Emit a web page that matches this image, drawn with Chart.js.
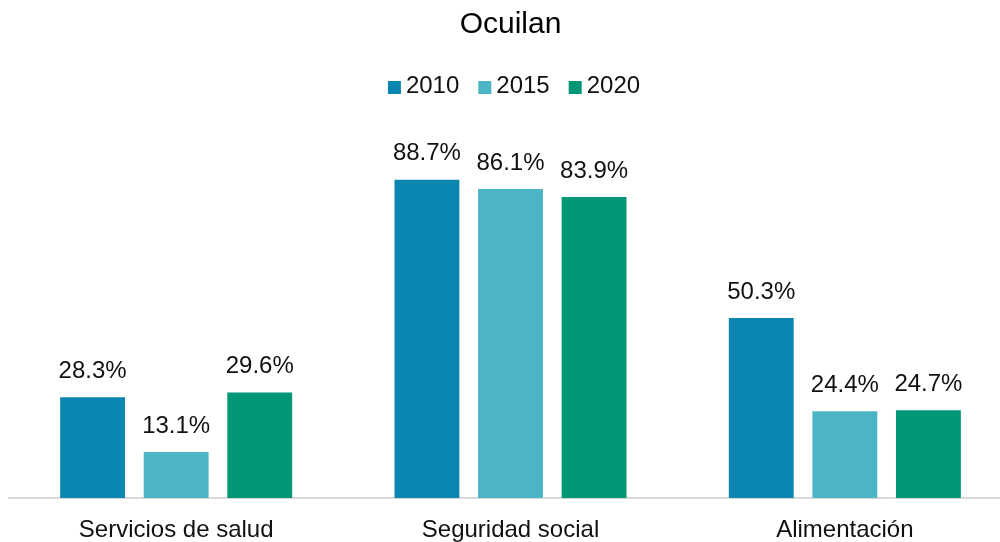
<!DOCTYPE html>
<html>
<head>
<meta charset="utf-8">
<script src="https://cdn.jsdelivr.net/npm/chart.js@4/dist/chart.umd.min.js"></script>
<style>
  html, body { margin: 0; padding: 0; background: #fff; overflow: hidden; }
  #wrap { width: 1022px; height: 563px; position: relative; }
</style>
</head>
<body>
<div id="wrap"><canvas id="pobrezaChart"></canvas></div>
<script>
const categorias = ['Servicios de salud', 'Seguridad social', 'Alimentación'];
const anios = ['2010', '2015', '2020'];
const valores2010 = [28.3, 88.7, 50.3];
const valores2015 = [13.1, 86.1, 24.4];
const valores2020 = [29.6, 83.9, 24.7];
const colores = ['#0B86B0', '#4BB5C5', '#009676'];

const fuente = "'Liberation Sans', Arial, sans-serif";

// porcentaje encima de cada barra
const etiquetasValor = {
    id: 'etiquetasValor',
    afterDatasetsDraw(chart) {
        const ctx = chart.ctx;
        ctx.save();
        ctx.font = '24px ' + fuente;
        ctx.fillStyle = '#111';
        ctx.textAlign = 'center';
        ctx.textBaseline = 'middle';
        chart.data.datasets.forEach((ds, i) => {
            chart.getDatasetMeta(i).data.forEach((bar, j) => {
                ctx.fillText(ds.data[j].toFixed(1) + '%', bar.x, bar.y - 25);
            });
        });
        ctx.restore();
    }
};

// leyenda compacta bajo el título
const leyenda = {
    id: 'leyenda',
    afterDraw(chart) {
        const ctx = chart.ctx;
        const caja = 13, hueco = 5, separacion = 19;
        ctx.save();
        ctx.font = '24px ' + fuente;
        ctx.textBaseline = 'middle';
        const anchos = chart.data.datasets.map(ds => ctx.measureText(ds.label).width);
        const total = anchos.reduce((s, w) => s + caja + hueco + w, 0) + separacion * (anchos.length - 1);
        let x = 514 - total / 2;
        const y = 86;
        chart.data.datasets.forEach((ds, i) => {
            ctx.fillStyle = ds.backgroundColor;
            ctx.fillRect(x, y - 5, caja, caja);
            ctx.fillStyle = '#111';
            ctx.fillText(ds.label, x + caja + hueco, y);
            x += caja + hueco + anchos[i] + separacion;
        });
        ctx.restore();
    }
};

const series = [valores2010, valores2015, valores2020];

new Chart(document.getElementById('pobrezaChart').getContext('2d'), {
    type: 'bar',
    data: {
        labels: categorias,
        datasets: anios.map((anio, i) => ({
            label: anio,
            data: series[i],
            backgroundColor: colores[i],
            borderColor: 'rgba(255,255,255,0.45)',
            borderWidth: 1,
            barPercentage: 0.8,
            categoryPercentage: 0.75
        }))
    },
    options: {
        responsive: true,
        maintainAspectRatio: false,
        animation: false,
        layout: { padding: { left: 9, right: 10, top: 0, bottom: 0 } },
        scales: {
            x: {
                grid: { display: false, drawTicks: false },
                border: { display: true, color: '#d9d9d9', width: 2 },
                ticks: {
                    color: '#111',
                    padding: 18,
                    font: { family: fuente, size: 24 }
                }
            },
            y: {
                display: false,
                min: 0,
                max: 100
            }
        },
        plugins: {
            legend: { display: false },
            tooltip: { enabled: false },
            title: {
                display: true,
                text: 'Ocuilan',
                color: '#000',
                font: { family: fuente, size: 30, weight: 'normal' },
                padding: { top: 7, bottom: 95 }
            }
        }
    },
    plugins: [etiquetasValor, leyenda]
});
</script>
</body>
</html>
